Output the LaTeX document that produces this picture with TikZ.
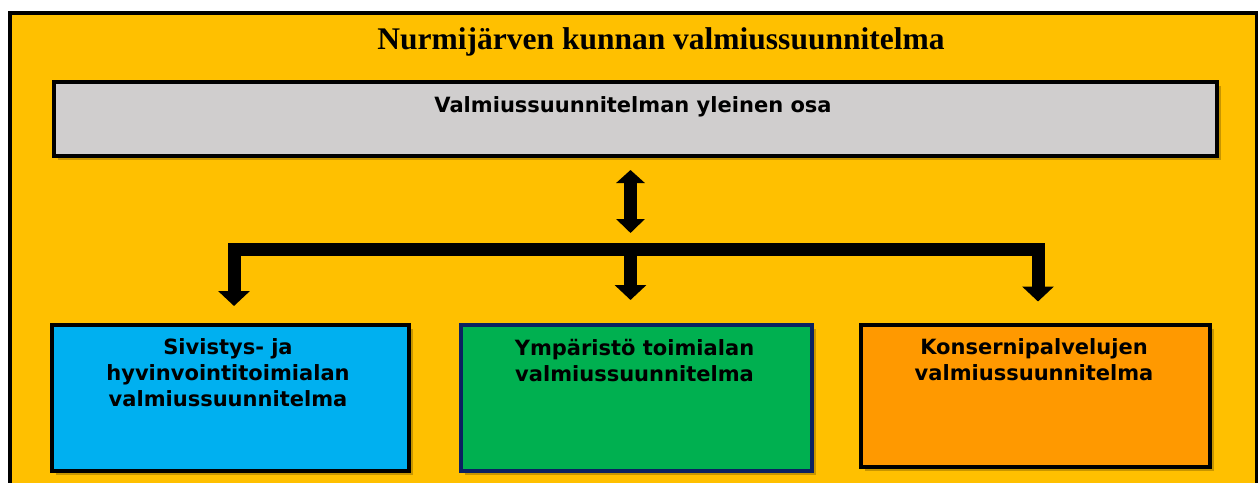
\documentclass[tikz,border=0pt]{standalone}
\usepackage{fontspec}
\setmainfont{Liberation Serif}
\newfontfamily\boxfont{DejaVu Sans}
\usetikzlibrary{arrows.meta,shadows}
\definecolor{outery}{HTML}{FFC000}
\definecolor{grayfill}{HTML}{D0CECE}
\definecolor{bluefill}{HTML}{00B0F0}
\definecolor{greenfill}{HTML}{00B050}
\definecolor{orangefill}{HTML}{FF9900}
\definecolor{navyline}{HTML}{0B2161}
\begin{document}
\begin{tikzpicture}[x=1pt,y=-1pt,
  shadowed/.style={drop shadow={shadow xshift=4pt, shadow yshift=-4pt, opacity=0.22, fill=black}},
  boxstyle/.style={draw=black, line width=4pt, inner sep=0pt, anchor=north west, shadowed},
  boxtext/.style={font=\boxfont\bfseries\fontsize{21}{26.3}\selectfont, align=center, inner sep=0pt, anchor=base},
  arr/.style={line width=13pt, line join=miter, -{Triangle[length=15pt,width=31pt]}},
  dblarr/.style={line width=13pt, {Triangle[length=13pt,width=28pt]}-{Triangle[length=14pt,width=28pt]}}
]
\useasboundingbox (0,0) rectangle (1258,482);
\fill[white] (0,0) rectangle (1258,482);
\clip (0,0) rectangle (1258,482);
% outer frame
\node[boxstyle, fill=outery, minimum width=1247pt, minimum height=490pt] (frame) at (8,11) {};
\node[font=\bfseries\fontsize{31.5}{36}\selectfont, anchor=base, inner sep=0pt] (title) at (661,49) {Nurmijärven kunnan valmiussuunnitelma};
% general part
\node[boxstyle, fill=grayfill, minimum width=1163pt, minimum height=74pt] (general) at (52,79.5) {};
\node[boxtext] (generaltext) at (633,112) {Valmiussuunnitelman yleinen osa};
% three boxes
\node[boxstyle, fill=bluefill, minimum width=357pt, minimum height=146pt] (blue) at (50,323) {};
\node[boxstyle, draw=navyline, fill=greenfill, minimum width=351pt, minimum height=146pt] (green) at (459,323) {};
\node[boxstyle, fill=orangefill, minimum width=349pt, minimum height=142pt] (orange) at (859,323) {};
\node[boxtext] (bluetext) at (228,406.6) {Sivistys- ja\\hyvinvointitoimialan\\valmiussuunnitelma};
\node[boxtext] (greentext) at (634.5,381.3) {Ympäristö toimialan\\valmiussuunnitelma};
\node[boxtext] (orangetext) at (1034,380.5) {Konsernipalvelujen\\valmiussuunnitelma};
% connectors
\coordinate (dtop) at (630.5,170);
\coordinate (dbot) at (630.5,233);
\coordinate (hub) at (630.5,249);
\coordinate (ltip) at (234,306);
\coordinate (mtip) at (630.5,300);
\coordinate (rtip) at (1038,301.5);
\draw[dblarr] (dtop) -- (dbot);
\draw[arr] (hub) -| (ltip);
\draw[arr] (hub) -| (rtip);
\draw[arr] (hub) -- (mtip);
\end{tikzpicture}
\end{document}
